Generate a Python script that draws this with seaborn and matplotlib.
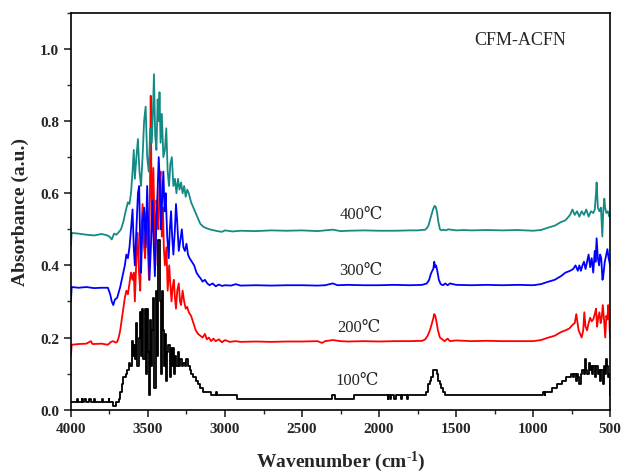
import matplotlib
matplotlib.use("Agg")
import matplotlib.pyplot as plt
import seaborn as sns
import pandas as pd
from matplotlib.ticker import MultipleLocator

# ---- data ----
wn_400 = [4000,3995,3950,3900,3850,3800,3770,3750,3735,3720,3705,3690,3675,3660,3645,3630,3620,3610,3600,3592,
          3585,3575,3565,3555,3545,3535,3525,3515,3505,3495,3485,3475,3468,3461,3453,3445,3437,3430,3425,3418,
          3410,3400,3390,3381,3372,3363,3355,3345,3335,3325,3315,3305,3295,3285,3275,3265,3255,3245,3235,3220,
          3205,3190,3175,3160,3140,3120,3100,3080,3050,3020,3000,2950,2900,2800,2700,2600,2500,2400,2350,2300,
          2250,2200,2100,2000,1900,1800,1750,1700,1690,1680,1670,1660,1650,1640,1632,1625,1615,1605,1595,1585,
          1570,1550,1500,1450,1400,1300,1200,1100,1000,950,900,860,820,790,760,745,730,715,700,685,
          670,655,640,625,610,600,592,588,580,570,560,551,545,538,533,525,515,505,500]
ab_400 = [0.455,0.49,0.488,0.485,0.483,0.487,0.484,0.48,0.472,0.488,0.485,0.492,0.50,0.52,0.55,0.575,0.57,0.60,0.66,0.72,
          0.64,0.70,0.75,0.66,0.62,0.70,0.80,0.84,0.70,0.66,0.78,0.74,0.82,0.93,0.76,0.72,0.86,0.80,0.88,0.74,
          0.82,0.70,0.72,0.78,0.66,0.62,0.68,0.70,0.62,0.64,0.60,0.64,0.61,0.63,0.60,0.62,0.59,0.61,0.60,0.575,
          0.56,0.545,0.53,0.515,0.507,0.503,0.50,0.498,0.495,0.493,0.497,0.494,0.496,0.495,0.497,0.496,0.497,0.495,0.497,0.499,
          0.495,0.496,0.497,0.496,0.496,0.497,0.497,0.499,0.503,0.51,0.525,0.54,0.555,0.565,0.562,0.55,0.52,0.50,0.497,0.499,
          0.497,0.50,0.497,0.498,0.497,0.498,0.497,0.498,0.496,0.498,0.505,0.51,0.52,0.525,0.54,0.555,0.54,0.55,0.535,0.55,
          0.54,0.555,0.535,0.55,0.545,0.555,0.60,0.63,0.56,0.55,0.56,0.48,0.55,0.585,0.56,0.545,0.55,0.535,0.54]

wn_300 = [4000,3995,3950,3900,3850,3800,3760,3745,3735,3725,3715,3700,3690,3680,3665,3650,3640,3630,3620,3610,
          3600,3592,3585,3575,3565,3557,3550,3545,3535,3525,3515,3505,3497,3490,3480,3470,3462,3455,3445,3438,
          3430,3422,3415,3408,3400,3392,3385,3375,3365,3358,3350,3343,3335,3325,3318,3310,3300,3290,3280,3270,
          3260,3250,3240,3230,3215,3200,3185,3170,3160,3145,3130,3115,3100,3080,3060,3040,3020,3000,2960,2930,
          2900,2800,2700,2600,2500,2400,2350,2300,2270,2200,2100,2000,1900,1800,1720,1690,1675,1665,1655,1648,
          1642,1636,1630,1622,1612,1600,1585,1570,1555,1540,1500,1400,1300,1200,1100,1000,950,900,860,820,
          790,760,740,725,710,700,690,680,670,660,650,640,630,620,610,600,595,588,580,572,
          565,558,550,545,535,525,518,510,505,500]
ab_300 = [0.30,0.34,0.338,0.34,0.337,0.338,0.338,0.32,0.30,0.29,0.305,0.31,0.325,0.34,0.37,0.40,0.43,0.42,0.45,0.50,
          0.555,0.45,0.40,0.50,0.60,0.62,0.45,0.38,0.52,0.56,0.45,0.62,0.50,0.36,0.46,0.58,0.45,0.37,0.52,0.60,
          0.70,0.62,0.50,0.58,0.66,0.55,0.60,0.48,0.42,0.50,0.55,0.48,0.43,0.50,0.57,0.52,0.44,0.47,0.50,0.45,
          0.44,0.46,0.43,0.42,0.41,0.40,0.38,0.37,0.365,0.355,0.36,0.35,0.345,0.35,0.342,0.347,0.343,0.345,0.344,0.348,
          0.344,0.345,0.344,0.345,0.345,0.344,0.345,0.35,0.345,0.346,0.345,0.345,0.346,0.345,0.346,0.35,0.36,0.375,0.385,0.39,
          0.41,0.395,0.40,0.385,0.36,0.348,0.345,0.35,0.345,0.35,0.346,0.345,0.346,0.345,0.346,0.345,0.348,0.355,0.36,0.37,
          0.38,0.385,0.39,0.40,0.385,0.40,0.385,0.40,0.41,0.39,0.41,0.43,0.395,0.42,0.38,0.44,0.41,0.475,0.42,0.40,
          0.43,0.42,0.36,0.37,0.41,0.43,0.445,0.42,0.41,0.40]

wn_200 = [4000,3995,3950,3900,3870,3860,3800,3760,3740,3725,3710,3700,3690,3680,3670,3660,3650,3640,3630,3620,
          3610,3600,3592,3585,3575,3567,3558,3550,3542,3535,3525,3518,3510,3500,3493,3487,3482,3477,3470,3465,
          3458,3452,3445,3438,3432,3425,3418,3410,3403,3397,3390,3380,3372,3362,3355,3347,3340,3332,3325,3318,
          3310,3300,3292,3285,3275,3265,3255,3245,3235,3220,3205,3190,3175,3160,3145,3130,3118,3105,3090,3075,
          3060,3040,3020,3000,2970,2930,2900,2800,2700,2600,2500,2400,2370,2350,2300,2250,2200,2100,2000,1900,
          1800,1720,1700,1685,1670,1660,1650,1642,1635,1628,1618,1605,1590,1575,1555,1540,1500,1400,1300,1200,
          1100,1000,950,900,860,820,790,765,745,730,720,712,705,695,685,675,668,660,650,640,
          630,620,610,600,592,585,578,570,562,555,548,540,532,525,518,513,507,503,500]
ab_200 = [0.15,0.18,0.182,0.183,0.19,0.182,0.183,0.18,0.188,0.19,0.186,0.188,0.20,0.22,0.25,0.28,0.31,0.33,0.32,0.35,
          0.38,0.36,0.38,0.30,0.42,0.49,0.38,0.33,0.50,0.57,0.45,0.42,0.55,0.44,0.36,0.60,0.87,0.62,0.50,0.67,
          0.52,0.40,0.58,0.55,0.50,0.62,0.66,0.48,0.56,0.45,0.40,0.45,0.33,0.40,0.35,0.30,0.34,0.36,0.31,0.28,
          0.33,0.35,0.30,0.29,0.33,0.30,0.28,0.285,0.27,0.26,0.24,0.22,0.21,0.205,0.20,0.21,0.195,0.20,0.19,0.197,
          0.19,0.195,0.187,0.193,0.188,0.19,0.188,0.189,0.188,0.189,0.189,0.19,0.185,0.19,0.193,0.19,0.189,0.19,0.189,0.19,
          0.19,0.191,0.195,0.205,0.22,0.235,0.25,0.265,0.26,0.245,0.22,0.20,0.195,0.19,0.197,0.19,0.192,0.19,0.191,0.19,
          0.19,0.19,0.193,0.20,0.205,0.215,0.22,0.225,0.235,0.24,0.265,0.24,0.22,0.21,0.20,0.22,0.27,0.23,0.22,0.24,
          0.255,0.245,0.25,0.265,0.28,0.23,0.255,0.27,0.24,0.255,0.29,0.25,0.20,0.26,0.25,0.29,0.27,0.22,0.20]

wn_100 = [4000,3960,3958,3955,3930,3928,3925,3915,3900,3880,3870,3850,3845,3800,3795,3790,3760,3755,3750,3730,
          3725,3710,3705,3695,3690,3680,3670,3660,3645,3635,3625,3615,3605,3598,3590,3582,3575,3568,3560,3552,
          3545,3538,3530,3522,3515,3507,3500,3495,3488,3480,3472,3465,3458,3450,3445,3438,3432,3425,3418,3412,
          3405,3398,3390,3382,3375,3368,3360,3352,3345,3338,3330,3322,3315,3307,3300,3290,3280,3270,3260,3250,
          3240,3230,3220,3205,3190,3175,3160,3140,3110,3090,3070,3060,3055,2930,2925,2310,2305,2290,2285,2170,
          2165,1950,1945,1940,1930,1920,1900,1890,1860,1850,1820,1810,1700,1695,1680,1670,1660,1650,1635,1625,
          1615,1605,1595,1585,1575,940,935,925,920,880,875,850,845,820,815,790,785,760,755,740,
          735,725,718,710,700,690,680,670,663,657,650,640,632,625,618,610,600,590,582,575,
          565,557,548,540,532,525,518,512,506,502,500]
ab_100 = [0.02,0.02,0.03,0.02,0.02,0.03,0.02,0.03,0.02,0.03,0.02,0.03,0.02,0.02,0.03,0.02,0.02,0.03,0.02,0.02,
          0.01,0.01,0.02,0.02,0.03,0.05,0.07,0.09,0.10,0.11,0.13,0.12,0.19,0.15,0.18,0.14,0.24,0.12,0.20,0.27,
          0.15,0.28,0.14,0.28,0.10,0.28,0.16,0.04,0.25,0.12,0.22,0.31,0.06,0.30,0.33,0.15,0.47,0.30,0.10,0.33,
          0.22,0.12,0.21,0.08,0.16,0.18,0.09,0.17,0.12,0.17,0.10,0.15,0.12,0.16,0.12,0.14,0.12,0.13,0.12,0.14,
          0.12,0.11,0.10,0.09,0.08,0.07,0.06,0.05,0.05,0.04,0.04,0.05,0.04,0.04,0.03,0.03,0.04,0.04,0.03,0.03,
          0.04,0.04,0.03,0.04,0.03,0.04,0.03,0.04,0.03,0.04,0.03,0.04,0.04,0.05,0.07,0.08,0.09,0.11,0.11,0.10,
          0.08,0.07,0.06,0.05,0.04,0.04,0.05,0.04,0.05,0.05,0.06,0.06,0.07,0.07,0.08,0.08,0.09,0.09,0.10,0.09,
          0.10,0.08,0.10,0.09,0.07,0.10,0.11,0.10,0.14,0.11,0.10,0.13,0.11,0.12,0.10,0.12,0.09,0.12,0.10,0.11,
          0.08,0.11,0.07,0.12,0.10,0.14,0.12,0.09,0.10,0.05,0.04]

labels = ["100℃", "200℃", "300℃", "400℃"]
title_text = "CFM-ACFN"

# ---- styling ----
sns.set_style("ticks")
plt.rcParams["font.family"] = ["Liberation Serif", "DejaVu Serif"]
plt.rcParams["mathtext.fontset"] = "custom"
plt.rcParams["mathtext.rm"] = "Liberation Serif:bold"
plt.rcParams["mathtext.bf"] = "Liberation Serif:bold"
plt.rcParams["mathtext.it"] = "Liberation Serif:bold"
plt.rcParams["mathtext.default"] = "rm"

fig = plt.figure(figsize=(6.22, 4.77), dpi=100)
ax = fig.add_axes([0.114, 0.139, 0.867, 0.832])

lw = 1.3
sns.lineplot(x=wn_100, y=ab_100, color="black", sort=False, estimator=None, lw=lw,
             drawstyle="steps-post", ax=ax)
sns.lineplot(x=wn_200, y=ab_200, color="#ff0000", sort=False, estimator=None, lw=lw, ax=ax)
sns.lineplot(x=wn_300, y=ab_300, color="#0000ff", sort=False, estimator=None, lw=lw, ax=ax)
sns.lineplot(x=wn_400, y=ab_400, color="#148a84", sort=False, estimator=None, lw=lw, ax=ax)

ax.set_xlim(4000, 500)
ax.set_ylim(0, 1.1)
ax.xaxis.set_major_locator(MultipleLocator(500))
ax.xaxis.set_minor_locator(MultipleLocator(250))
ax.yaxis.set_major_locator(MultipleLocator(0.2))
ax.yaxis.set_minor_locator(MultipleLocator(0.1))
ax.yaxis.set_major_formatter(matplotlib.ticker.FormatStrFormatter("%.1f"))
ax.tick_params(which="major", direction="out", length=5, width=1.2, labelsize=11, top=False, right=False)
ax.tick_params(which="minor", direction="out", length=3, width=1.0, top=False, right=False)
for lab in ax.get_xticklabels() + ax.get_yticklabels():
    lab.set_fontweight("bold")
for s in ax.spines.values():
    s.set_linewidth(1.2)
    s.set_visible(True)
    s.set_color("black")

ax.set_xlabel("Wavenumber (cm$^{\\text{-}1}$)", fontsize=14, fontweight="bold", labelpad=10)
ax.set_ylabel("Absorbance (a.u.)", fontsize=14, fontweight="bold", labelpad=8)

ax.text(1085, 1.025, title_text, fontsize=13, ha="center", va="center")
lab_pos = [(2140, 0.082), (2130, 0.228), (2117, 0.387), (2117, 0.542)]
for t, (xx, yy) in zip(labels, lab_pos):
    ax.text(xx, yy, t, fontsize=12, ha="center", va="center")

fig.savefig("out.png", dpi=100)
